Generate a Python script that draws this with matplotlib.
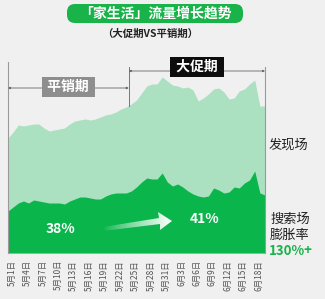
import numpy as np
import matplotlib
matplotlib.use("Agg")
import matplotlib.pyplot as plt
from matplotlib.patches import FancyBboxPatch, Polygon
from matplotlib.transforms import IdentityTransform, ScaledTranslation

plt.rcParams['font.family'] = ['Noto Sans CJK SC', 'DejaVu Sans']

# daily traffic, 5/1 .. 6/20 (pixel-read estimates)
total_traffic = [115, 121, 128, 127, 128, 129, 129, 125, 122, 123, 124, 125, 129, 132, 133, 134, 133,
                 134, 136, 138, 139, 141, 144, 146, 149, 153, 160, 167, 169, 169, 176, 172, 168, 167,
                 165, 166, 163, 152, 155, 159, 164, 165, 161, 154, 155, 162, 164, 169, 173, 147, 147]
search_traffic = [42, 46, 50, 52, 50, 53, 52, 51, 50, 50, 50, 49, 52, 54, 56, 56, 55, 54, 54, 57,
                  59, 60, 60, 60, 62, 66, 71, 75, 74, 74, 80, 71, 67, 69, 66, 62, 59, 57, 56, 57,
                  65, 63, 60, 61, 66, 65, 70, 73, 82, 60, 58]
tick_labels = ['5月1日', '5月4日', '5月7日', '5月10日', '5月13日', '5月16日', '5月19日', '5月22日',
               '5月25日', '5月28日', '5月31日', '6月3日', '6月6日', '6月9日', '6月12日', '6月15日',
               '6月18日']
promo_start = 23.5
rate_before, rate_after = '38%', '41%'

W, H = 325, 299
fig = plt.figure(figsize=(W / 100, H / 100), dpi=100)
fig.patch.set_facecolor('#f0f0f0')

# axes: x 8..265 px, y 60..253 px
ax = fig.add_axes([8 / W, (H - 253) / H, 257 / W, 193 / H])
ax.set_facecolor('none')
days = np.arange(len(total_traffic))
ax.fill_between(days, 0, total_traffic, color='#abe0c1', lw=0)
ax.fill_between(days, 0, search_traffic, color='#0ab54b', lw=0)
ax.set_xlim(0, len(days) - 1)
ax.set_ylim(0, 193)
for s in ax.spines.values():
    s.set_visible(False)
ax.set_yticks([])
ax.set_xticks(days[::3])
ax.set_xticklabels(tick_labels, rotation=90, fontsize=6, color='#555555')
ax.tick_params(axis='x', length=0, pad=5)
off = ScaledTranslation(4 / 100, 0, fig.dpi_scale_trans)
for lab in ax.get_xticklabels():
    lab.set_transform(lab.get_transform() + off)

# bracket lines
end = len(days) - 1
ax.plot([0, 0], [0, 191], color='#9a9a9a', lw=0.8, clip_on=False)
ax.plot([end, end], [0, 186], color='#9a9a9a', lw=0.8, clip_on=False)
ax.plot([promo_start, promo_start], [np.interp(promo_start, days, total_traffic), 186],
        color='#777777', lw=0.7, clip_on=False)
ax.annotate('', xy=(0, 165), xytext=(promo_start, 165),
            arrowprops=dict(arrowstyle='<|-|>', color='#666666', lw=0.6,
                            mutation_scale=3, shrinkA=0, shrinkB=0), annotation_clip=False)
ax.annotate('', xy=(promo_start, 182), xytext=(end, 182),
            arrowprops=dict(arrowstyle='<|-|>', color='#666666', lw=0.6,
                            mutation_scale=3, shrinkA=0, shrinkB=0), annotation_clip=False)
ax.text(promo_start / 2, 166, ' 平销期 ', ha='center', va='center', fontsize=10,
        fontweight='bold', color='white', clip_on=False,
        bbox=dict(boxstyle='square,pad=0.2', fc='#8e8e8e', ec='none'))
ax.text(36.8, 186, ' 大促期 ', ha='center', va='center', fontsize=10,
        fontweight='bold', color='white', clip_on=False,
        bbox=dict(boxstyle='square,pad=0.2', fc='#0d0d0d', ec='none'))

# rates and arrow
ax.text(10.2, 24, rate_before, ha='center', va='center', fontsize=10, fontweight='bold', color='white')
ax.text(38.3, 34, rate_after, ha='center', va='center', fontsize=10, fontweight='bold', color='white')


def px(x, y):
    return (x, H - y)


arrow = Polygon([px(103, 231), px(160, 224), px(160, 230), px(172, 221),
                 px(158, 212), px(159, 218), px(103, 227)], closed=True,
                transform=IdentityTransform())
grad = np.zeros((2, 100, 4))
grad[..., :3] = 1.0
grad[..., 3] = np.linspace(0, 1, 100) ** 0.8
im = ax.imshow(grad, extent=[(103 - 8) / 5.14, (172 - 8) / 5.14, 15, 45],
               aspect='auto', zorder=3)
im.set_clip_path(arrow)
ax.set_xlim(0, len(days) - 1)
ax.set_ylim(0, 193)

# title pill (pixel coords)
fig.patches.append(FancyBboxPatch(px(67, 23), 176, 19,
                                  boxstyle='round,pad=0,rounding_size=8',
                                  transform=IdentityTransform(), fc='#19b34a', ec='none'))
fig.text(155 / W, 1 - 13.5 / H, '「家生活」流量增长趋势', ha='center', va='center',
         fontsize=10, fontweight='bold', color='white')
fig.text(150 / W, 1 - 34 / H, '（大促期VS平销期）', ha='center', va='center',
         fontsize=7.5, fontweight='bold', color='#222222')

# right side labels
fig.text(269 / W, 1 - 145 / H, '发现场', ha='left', va='center', fontsize=9.5, color='#222222')
fig.text(270 / W, 1 - 219 / H, '搜索场', ha='left', va='center', fontsize=9.5, color='#222222')
fig.text(270 / W, 1 - 235 / H, '膨胀率', ha='left', va='center', fontsize=9.5, color='#222222')
fig.text(269 / W, 1 - 251 / H, '130%+', ha='left', va='center', fontsize=9.5,
         fontweight='bold', color='#19b34a')

fig.savefig('out.png', dpi=100, facecolor=fig.get_facecolor())
